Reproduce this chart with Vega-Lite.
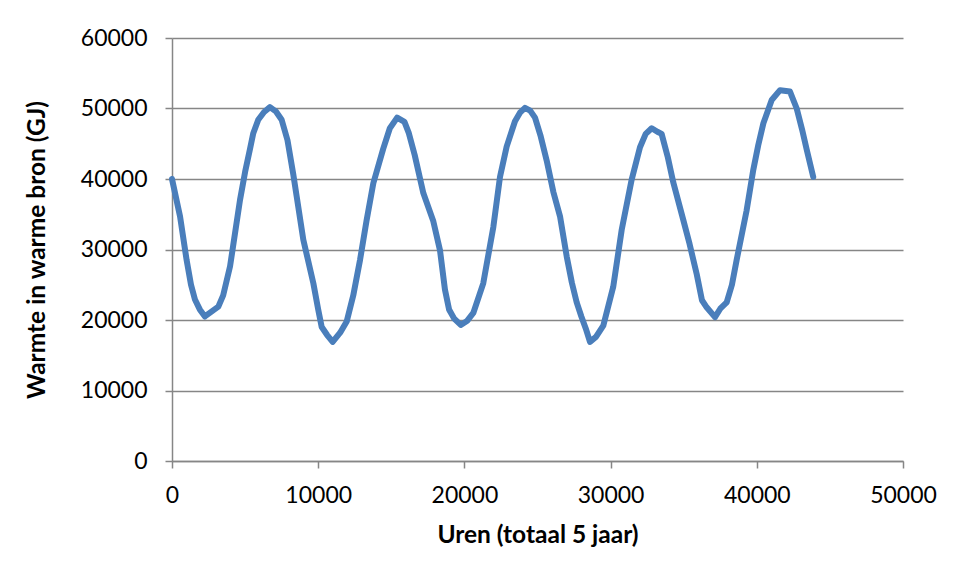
{
  "$schema": "https://vega.github.io/schema/vega-lite/v6.json",
  "autosize": "none",
  "width": 731,
  "height": 423,
  "padding": {"left": 172, "top": 38, "right": 52, "bottom": 116},
  "background": "white",
  "config": {
    "view": {"stroke": null},
    "font": "Lato",
    "axis": {
      "labelFont": "Lato",
      "titleFont": "Lato",
      "labelFontSize": 23,
      "titleFontSize": 24.5,
      "labelColor": "#000000",
      "titleColor": "#000000",
      "titleFontWeight": "bold",
      "labelFlush": false,
      "domainColor": "#868686",
      "tickColor": "#868686",
      "gridColor": "#868686",
      "domainWidth": 1.5,
      "tickWidth": 1.5,
      "gridWidth": 1.5,
      "tickSize": 7
    }
  },
  "data": {
    "values": [
      {"uren": 0, "warmte": 40000},
      {"uren": 550, "warmte": 34700},
      {"uren": 1000, "warmte": 28500},
      {"uren": 1300, "warmte": 25000},
      {"uren": 1570, "warmte": 22900},
      {"uren": 1900, "warmte": 21500},
      {"uren": 2250, "warmte": 20500},
      {"uren": 2700, "warmte": 21200},
      {"uren": 3170, "warmte": 21900},
      {"uren": 3500, "warmte": 23500},
      {"uren": 3970, "warmte": 27600},
      {"uren": 4650, "warmte": 37000},
      {"uren": 5000, "warmte": 41000},
      {"uren": 5340, "warmte": 44300},
      {"uren": 5560, "warmte": 46500},
      {"uren": 5900, "warmte": 48400},
      {"uren": 6300, "warmte": 49500},
      {"uren": 6700, "warmte": 50200},
      {"uren": 7100, "warmte": 49600},
      {"uren": 7500, "warmte": 48400},
      {"uren": 7900, "warmte": 45500},
      {"uren": 8300, "warmte": 40600},
      {"uren": 8530, "warmte": 37500},
      {"uren": 8980, "warmte": 31400},
      {"uren": 9670, "warmte": 25200},
      {"uren": 10000, "warmte": 21500},
      {"uren": 10240, "warmte": 19000},
      {"uren": 10600, "warmte": 17900},
      {"uren": 10990, "warmte": 16900},
      {"uren": 11500, "warmte": 18200},
      {"uren": 11950, "warmte": 19800},
      {"uren": 12400, "warmte": 23500},
      {"uren": 12860, "warmte": 28500},
      {"uren": 13300, "warmte": 34000},
      {"uren": 13770, "warmte": 39400},
      {"uren": 14450, "warmte": 44300},
      {"uren": 14900, "warmte": 47200},
      {"uren": 15400, "warmte": 48700},
      {"uren": 15900, "warmte": 48100},
      {"uren": 16200, "warmte": 46500},
      {"uren": 16600, "warmte": 43400},
      {"uren": 17190, "warmte": 38000},
      {"uren": 17875, "warmte": 34000},
      {"uren": 18330, "warmte": 29900},
      {"uren": 18670, "warmte": 24300},
      {"uren": 18950, "warmte": 21500},
      {"uren": 19300, "warmte": 20200},
      {"uren": 19750, "warmte": 19300},
      {"uren": 20200, "warmte": 19900},
      {"uren": 20610, "warmte": 21000},
      {"uren": 21290, "warmte": 25200},
      {"uren": 21980, "warmte": 33200},
      {"uren": 22435, "warmte": 40300},
      {"uren": 22890, "warmte": 44600},
      {"uren": 23460, "warmte": 48200},
      {"uren": 23800, "warmte": 49400},
      {"uren": 24145, "warmte": 50100},
      {"uren": 24500, "warmte": 49700},
      {"uren": 24830, "warmte": 48700},
      {"uren": 25200, "warmte": 46200},
      {"uren": 25630, "warmte": 42600},
      {"uren": 26080, "warmte": 38200},
      {"uren": 26540, "warmte": 34700},
      {"uren": 27000, "warmte": 29000},
      {"uren": 27350, "warmte": 25300},
      {"uren": 27680, "warmte": 22500},
      {"uren": 28000, "warmte": 20500},
      {"uren": 28300, "warmte": 18800},
      {"uren": 28590, "warmte": 16900},
      {"uren": 29000, "warmte": 17600},
      {"uren": 29500, "warmte": 19200},
      {"uren": 30180, "warmte": 24700},
      {"uren": 30760, "warmte": 32800},
      {"uren": 31440, "warmte": 39900},
      {"uren": 32010, "warmte": 44500},
      {"uren": 32400, "warmte": 46400},
      {"uren": 32810, "warmte": 47200},
      {"uren": 33200, "warmte": 46700},
      {"uren": 33490, "warmte": 46400},
      {"uren": 33900, "warmte": 43200},
      {"uren": 34290, "warmte": 39500},
      {"uren": 34970, "warmte": 34200},
      {"uren": 35400, "warmte": 30800},
      {"uren": 35890, "warmte": 26500},
      {"uren": 36250, "warmte": 22800},
      {"uren": 36570, "warmte": 21800},
      {"uren": 37140, "warmte": 20400},
      {"uren": 37500, "warmte": 21600},
      {"uren": 37940, "warmte": 22500},
      {"uren": 38300, "warmte": 25000},
      {"uren": 38620, "warmte": 28500},
      {"uren": 39300, "warmte": 35500},
      {"uren": 39760, "warmte": 41300},
      {"uren": 40100, "warmte": 44800},
      {"uren": 40450, "warmte": 47900},
      {"uren": 41020, "warmte": 51200},
      {"uren": 41590, "warmte": 52600},
      {"uren": 42270, "warmte": 52400},
      {"uren": 42730, "warmte": 50000},
      {"uren": 43100, "warmte": 47000},
      {"uren": 43410, "warmte": 44200},
      {"uren": 43860, "warmte": 40300}
    ]
  },
  "mark": {"type": "line", "color": "#4A7EBB", "strokeWidth": 6, "strokeCap": "round", "strokeJoin": "round"},
  "encoding": {
    "x": {
      "field": "uren",
      "type": "quantitative",
      "scale": {"domain": [0, 50000], "nice": false},
      "axis": {
        "values": [0, 10000, 20000, 30000, 40000, 50000],
        "format": "d",
        "grid": false,
        "title": "Uren (totaal 5 jaar)",
        "labelPadding": 16,
        "titlePadding": 16
      }
    },
    "y": {
      "field": "warmte",
      "type": "quantitative",
      "scale": {"domain": [0, 60000], "nice": false},
      "axis": {
        "values": [0, 10000, 20000, 30000, 40000, 50000, 60000],
        "format": "d",
        "grid": true,
        "title": "Warmte in warme bron (GJ)",
        "labelPadding": 18,
        "titlePadding": 31
      }
    }
  }
}
